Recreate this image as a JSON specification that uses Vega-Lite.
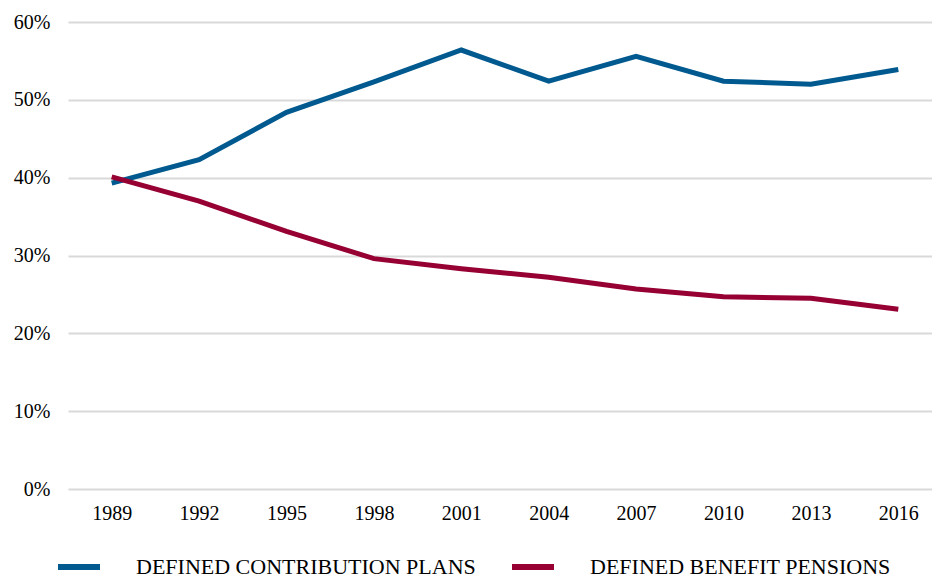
{
  "$schema": "https://vega.github.io/schema/vega-lite/v6.json",
  "width": 874,
  "height": 467,
  "padding": {"left": 13, "top": 12, "right": 0, "bottom": 0},
  "background": "white",
  "config": {
    "font": "Liberation Serif",
    "view": {"stroke": null}
  },
  "data": {
    "values": [
      {"year": "1989", "series": "Defined Contribution Plans", "share": 0.393},
      {"year": "1992", "series": "Defined Contribution Plans", "share": 0.423},
      {"year": "1995", "series": "Defined Contribution Plans", "share": 0.484},
      {"year": "1998", "series": "Defined Contribution Plans", "share": 0.523},
      {"year": "2001", "series": "Defined Contribution Plans", "share": 0.564},
      {"year": "2004", "series": "Defined Contribution Plans", "share": 0.524},
      {"year": "2007", "series": "Defined Contribution Plans", "share": 0.556},
      {"year": "2010", "series": "Defined Contribution Plans", "share": 0.524},
      {"year": "2013", "series": "Defined Contribution Plans", "share": 0.520},
      {"year": "2016", "series": "Defined Contribution Plans", "share": 0.539},
      {"year": "1989", "series": "Defined Benefit Pensions", "share": 0.401},
      {"year": "1992", "series": "Defined Benefit Pensions", "share": 0.370},
      {"year": "1995", "series": "Defined Benefit Pensions", "share": 0.331},
      {"year": "1998", "series": "Defined Benefit Pensions", "share": 0.296},
      {"year": "2001", "series": "Defined Benefit Pensions", "share": 0.283},
      {"year": "2004", "series": "Defined Benefit Pensions", "share": 0.272},
      {"year": "2007", "series": "Defined Benefit Pensions", "share": 0.257},
      {"year": "2010", "series": "Defined Benefit Pensions", "share": 0.247},
      {"year": "2013", "series": "Defined Benefit Pensions", "share": 0.245},
      {"year": "2016", "series": "Defined Benefit Pensions", "share": 0.231}
    ]
  },
  "mark": {"type": "line", "strokeWidth": 5, "strokeCap": "butt"},
  "encoding": {
    "x": {
      "field": "year",
      "type": "ordinal",
      "scale": {"type": "point", "padding": 0.5},
      "axis": {
        "title": null,
        "domain": false,
        "ticks": false,
        "grid": false,
        "labelAngle": 0,
        "labelFont": "Liberation Serif",
        "labelFontSize": 20,
        "labelColor": "#000000",
        "labelPadding": 14
      }
    },
    "y": {
      "field": "share",
      "type": "quantitative",
      "scale": {"domain": [0, 0.6], "nice": false},
      "axis": {
        "title": null,
        "format": ".0%",
        "values": [0, 0.1, 0.2, 0.3, 0.4, 0.5, 0.6],
        "domain": false,
        "ticks": false,
        "grid": true,
        "gridColor": "#d9d9d9",
        "gridWidth": 2,
        "labelFont": "Liberation Serif",
        "labelFontSize": 20,
        "labelColor": "#000000",
        "labelPadding": 18
      }
    },
    "color": {
      "field": "series",
      "type": "nominal",
      "sort": ["Defined Contribution Plans", "Defined Benefit Pensions"],
      "scale": {
        "domain": ["Defined Contribution Plans", "Defined Benefit Pensions"],
        "range": ["#005a8f", "#960032"]
      },
      "legend": {
        "title": null,
        "orient": "none",
        "legendX": -13,
        "legendY": 521,
        "direction": "horizontal",
        "symbolType": "stroke",
        "symbolSize": 1764,
        "symbolStrokeWidth": 6,
        "labelExpr": "upper(datum.label)",
        "labelFont": "Liberation Serif",
        "labelFontSize": 22,
        "labelColor": "#000000",
        "labelOffset": 33,
        "columnPadding": 24,
        "labelLimit": 500
      }
    }
  }
}
